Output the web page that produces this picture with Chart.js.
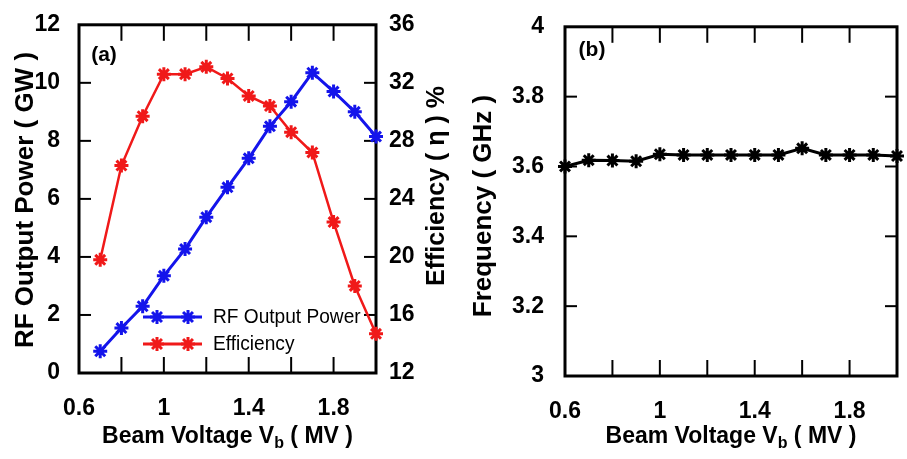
<!DOCTYPE html>
<html>
<head>
<meta charset="utf-8">
<script src="https://cdn.jsdelivr.net/npm/chart.js@4.4.1/dist/chart.umd.min.js"></script>
<style>
  body { margin: 0; background: #fff; }
  canvas { position: absolute; top: 0; }
  #powerChart { left: 0; }
  #freqChart { left: 460px; }
</style>
</head>
<body>
<canvas id="powerChart" width="460" height="459"></canvas>
<canvas id="freqChart" width="447" height="459"></canvas>
<script>
// panel (a): beam voltage vs RF power and efficiency
const voltageA = [0.7, 0.8, 0.9, 1.0, 1.1, 1.2, 1.3, 1.4, 1.5, 1.6, 1.7, 1.8, 1.9, 2.0];
const rfPower = [0.75, 1.55, 2.3, 3.35, 4.27, 5.37, 6.4, 7.4, 8.5, 9.35, 10.35, 9.7, 9.0, 8.15];
const efficiency = [19.8, 26.3, 29.7, 32.6, 32.6, 33.1, 32.3, 31.1, 30.4, 28.6, 27.2, 22.4, 18.0, 14.7];

// panel (b): beam voltage vs frequency
const voltageB = [0.6, 0.7, 0.8, 0.9, 1.0, 1.1, 1.2, 1.3, 1.4, 1.5, 1.6, 1.7, 1.8, 1.9, 2.0];
const frequency = [3.60, 3.618, 3.617, 3.615, 3.635, 3.633, 3.633, 3.633, 3.633, 3.633, 3.652, 3.633, 3.633, 3.633, 3.63];

const xTickLabels = ['0.6', '1', '1.4', '1.8'];
const xMinorTicks = [0.8, 1.0, 1.2, 1.4, 1.6, 1.8];
const powerTicks = [2, 4, 6, 8, 10];
const effTicks = [16, 20, 24, 28, 32];
const freqTicks = [3.2, 3.4, 3.6, 3.8];

const FONT = "'Liberation Sans', Arial, sans-serif";
Chart.defaults.font.family = FONT;
Chart.defaults.color = '#000';

const toPoints = (xs, ys) => xs.map((x, i) => ({ x: x, y: ys[i] }));
const fmt = v => String(+Number(v).toFixed(2));
const xLabel = v => xTickLabels.includes(fmt(v)) ? fmt(v) : '';
const tickFont = { size: 23, weight: 'bold' };

function line(ctx, x1, y1, x2, y2) {
    ctx.beginPath();
    ctx.moveTo(x1, y1);
    ctx.lineTo(x2, y2);
    ctx.stroke();
}

function vText(ctx, text, x, y, size) {
    ctx.save();
    ctx.translate(x, y);
    ctx.rotate(-Math.PI / 2);
    ctx.font = 'bold ' + size + 'px ' + FONT;
    ctx.textAlign = 'center';
    ctx.textBaseline = 'middle';
    ctx.fillText(text, 0, 0);
    ctx.restore();
}

function xTitle(ctx, cx, cy) {
    const big = 'bold 23px ' + FONT, small = 'bold 16px ' + FONT;
    const a = 'Beam Voltage V', b = 'b', c = ' ( MV )';
    ctx.font = big;
    const wa = ctx.measureText(a).width, wc = ctx.measureText(c).width;
    ctx.font = small;
    const wb = ctx.measureText(b).width;
    let x = cx - (wa + wb + wc) / 2;
    ctx.textBaseline = 'middle';
    ctx.textAlign = 'left';
    ctx.font = big; ctx.fillText(a, x, cy); x += wa;
    ctx.font = small; ctx.fillText(b, x, cy + 7); x += wb;
    ctx.font = big; ctx.fillText(c, x, cy);
}

const decor = {
    id: 'decor',
    beforeDatasetsDraw(chart, args, opts) {
        const { ctx, chartArea: a, scales } = chart;
        ctx.save();
        ctx.strokeStyle = '#000';
        ctx.lineWidth = 2;
        xMinorTicks.forEach(v => {
            const px = scales.x.getPixelForValue(v);
            line(ctx, px, a.top, px, a.top + 16);
            line(ctx, px, a.bottom, px, a.bottom - 16);
        });
        opts.leftTicks.forEach(v => {
            const py = scales.y.getPixelForValue(v);
            line(ctx, a.left, py, a.left + 12, py);
        });
        const rs = scales[opts.rightScale];
        opts.rightTicks.forEach(v => {
            const py = rs.getPixelForValue(v);
            line(ctx, a.right, py, a.right - 12, py);
        });
        ctx.lineWidth = 3;
        ctx.strokeRect(a.left, a.top, a.right - a.left, a.bottom - a.top);
        ctx.restore();
    },
    afterDraw(chart, args, opts) {
        const { ctx, chartArea: a } = chart;
        ctx.save();
        ctx.fillStyle = '#000';
        xTitle(ctx, (a.left + a.right) / 2, 437);
        opts.vTitles.forEach(t => vText(ctx, t.text, t.x, t.y, t.size));
        ctx.font = 'bold 21px ' + FONT;
        ctx.textAlign = 'center';
        ctx.textBaseline = 'middle';
        ctx.fillText(opts.letter.text, opts.letter.x, opts.letter.y);
        (opts.legend || []).forEach(item => {
            ctx.strokeStyle = item.color;
            ctx.lineWidth = 3;
            line(ctx, 143, item.y, 202, item.y);
            [157, 188].forEach(px => {
                Chart.helpers.drawPoint(ctx, { pointStyle: 'star', radius: 7, rotation: 0, borderWidth: 3 }, px, item.y);
            });
            ctx.save();
            ctx.fillStyle = '#000';
            ctx.font = '21px ' + FONT;
            ctx.textAlign = 'left';
            ctx.translate(213, item.y);
            ctx.scale(0.91, 1);
            ctx.fillText(item.text, 0, 0);
            ctx.restore();
        });
        ctx.restore();
    }
};

const blue = 'rgb(20, 20, 235)';
const red = 'rgb(240, 25, 25)';

new Chart(document.getElementById('powerChart'), {
    type: 'line',
    data: {
        datasets: [{
            label: 'RF Output Power',
            data: toPoints(voltageA, rfPower),
            yAxisID: 'y',
            borderColor: blue,
            backgroundColor: blue,
            borderWidth: 3,
            pointStyle: 'star',
            pointRadius: 7,
            pointBorderWidth: 3,
            clip: false
        }, {
            label: 'Efficiency',
            data: toPoints(voltageA, efficiency),
            yAxisID: 'y1',
            borderColor: red,
            backgroundColor: red,
            borderWidth: 2.5,
            pointStyle: 'star',
            pointRadius: 7,
            pointBorderWidth: 3,
            clip: false
        }]
    },
    options: {
        responsive: false,
        animation: false,
        layout: { padding: { top: 15, left: 0, right: 0, bottom: 0 } },
        plugins: {
            legend: { display: false },
            tooltip: { enabled: false },
            decor: {
                leftTicks: powerTicks,
                rightTicks: effTicks,
                rightScale: 'y1',
                letter: { text: '(a)', x: 104, y: 55 },
                vTitles: [
                    { text: 'RF Output Power ( GW )', x: 26, y: 200, size: 26 },
                    { text: 'Efficiency ( \u03B7 ) %', x: 437, y: 186, size: 25 }
                ]
                ,
                legend: [
                    { text: 'RF Output Power', color: blue, y: 317 },
                    { text: 'Efficiency', color: red, y: 344 }
                ]
            }
        },
        scales: {
            x: {
                type: 'linear', min: 0.6, max: 2.0,
                grid: { display: false }, border: { display: false },
                ticks: { stepSize: 0.2, font: tickFont, padding: 14, maxRotation: 0, autoSkip: false, callback: xLabel },
                afterFit: s => { s.height = 86; s.paddingLeft = 0; s.paddingRight = 0; }
            },
            y: {
                position: 'left', min: 0, max: 12,
                grid: { display: false }, border: { display: false },
                ticks: { stepSize: 2, font: tickFont, padding: 11, callback: fmt },
                afterFit: s => { s.width = 79; }
            },
            y1: {
                position: 'right', min: 12, max: 36,
                grid: { display: false }, border: { display: false },
                ticks: { stepSize: 4, font: tickFont, padding: 5, callback: fmt },
                afterFit: s => { s.width = 84; }
            }
        }
    },
    plugins: [decor]
});

new Chart(document.getElementById('freqChart'), {
    type: 'line',
    data: {
        datasets: [{
            label: 'Frequency',
            data: toPoints(voltageB, frequency),
            borderColor: '#000',
            backgroundColor: '#000',
            borderWidth: 3,
            pointStyle: 'star',
            pointRadius: 7,
            pointBorderWidth: 3,
            clip: false
        }]
    },
    options: {
        responsive: false,
        animation: false,
        layout: { padding: { top: 15, left: 0, right: 8, bottom: 0 } },
        plugins: {
            legend: { display: false },
            tooltip: { enabled: false },
            decor: {
                leftTicks: freqTicks,
                rightTicks: freqTicks,
                rightScale: 'y',
                letter: { text: '(b)', x: 132, y: 50 },
                vTitles: [
                    { text: 'Frequency ( GHz )', x: 24, y: 206, size: 26 }
                ]
            }
        },
        scales: {
            x: {
                type: 'linear', min: 0.6, max: 2.0,
                grid: { display: false }, border: { display: false },
                ticks: { stepSize: 0.2, font: tickFont, padding: 14, maxRotation: 0, autoSkip: false, callback: xLabel },
                afterFit: s => { s.height = 83; s.paddingLeft = 0; s.paddingRight = 0; }
            },
            y: {
                position: 'left', min: 3, max: 4,
                grid: { display: false }, border: { display: false },
                ticks: { stepSize: 0.2, font: tickFont, padding: 13, callback: fmt },
                afterFit: s => { s.width = 105; }
            }
        }
    },
    plugins: [decor]
});
</script>
</body>
</html>
